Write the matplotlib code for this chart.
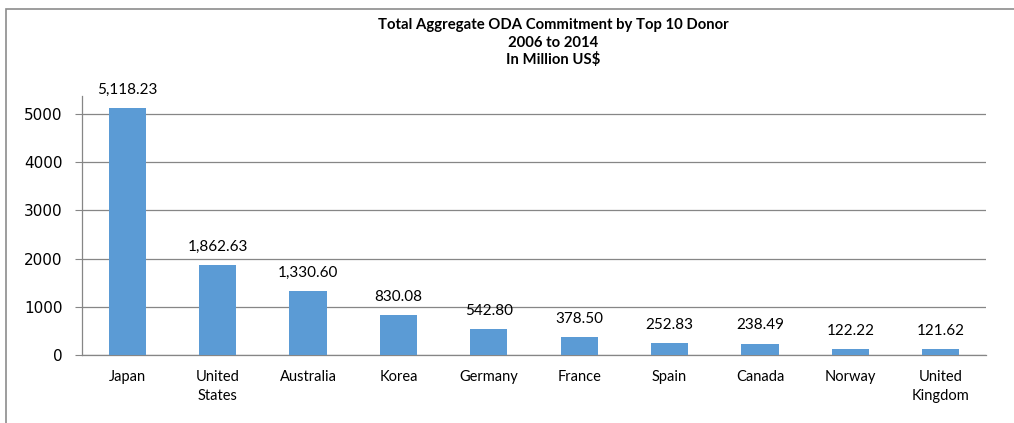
import matplotlib
matplotlib.use("Agg")
import matplotlib.pyplot as plt
from matplotlib.patches import Rectangle

categories = ["Japan", "United\nStates", "Australia", "Korea", "Germany",
              "France", "Spain", "Canada", "Norway", "United\nKingdom"]
values = [5118.23, 1862.63, 1330.60, 830.08, 542.80, 378.50, 252.83, 238.49, 122.22, 121.62]
yticks = [0, 1000, 2000, 3000, 4000, 5000]
title_lines = ["Total Aggregate ODA Commitment by Top 10 Donor", "2006 to 2014", "In Million US$"]

W, H = 1014, 423
fig = plt.figure(figsize=(W / 100, H / 100), dpi=100)
fig.patch.set_facecolor("white")

# chart border (partly cropped)
fig.add_artist(Rectangle((5.5 / W, -0.1), 1.2, 1 - 9.5 / H + 0.1, transform=fig.transFigure,
                         fill=False, edgecolor="#8c8c8c", linewidth=1.2))

ax = fig.add_axes([82 / W, 1 - 355 / H, (986 - 82) / W, (355 - 96) / H])
x = list(range(len(categories)))
ax.bar(x, values, width=0.41, color="#5B9BD5", zorder=3)
ax.set_xlim(-0.5, len(categories) - 0.5)
ax.set_ylim(0, 5373)
ax.set_yticks(yticks)
ax.set_yticklabels([str(v) for v in yticks], family="DejaVu Sans", fontsize=11)
ax.set_xticks(x)
ax.set_xticklabels(categories, family="Lato", fontsize=10.5, linespacing=1.45, va="top")
ax.tick_params(axis="x", length=0, pad=11)
ax.tick_params(axis="y", length=5, width=0.8, color="#868686", pad=9)
ax.grid(axis="y", color="#868686", linewidth=0.9, zorder=0)
for s in ["top", "right"]:
    ax.spines[s].set_visible(False)
for s in ["left", "bottom"]:
    ax.spines[s].set_color("#868686")
    ax.spines[s].set_linewidth(0.9)

for xi, v in zip(x, values):
    ax.annotate(f"{v:,.2f}", (xi, v), xytext=(0, 8), textcoords="offset points",
                ha="center", va="bottom", family="Lato", fontsize=11)

ys = [25, 43, 60]
for t, yy in zip(title_lines, ys):
    fig.text(553 / W, 1 - yy / H, t, ha="center", va="center", family="Lato",
             fontweight="bold", fontsize=10.7)

fig.savefig("out.png", dpi=100)
